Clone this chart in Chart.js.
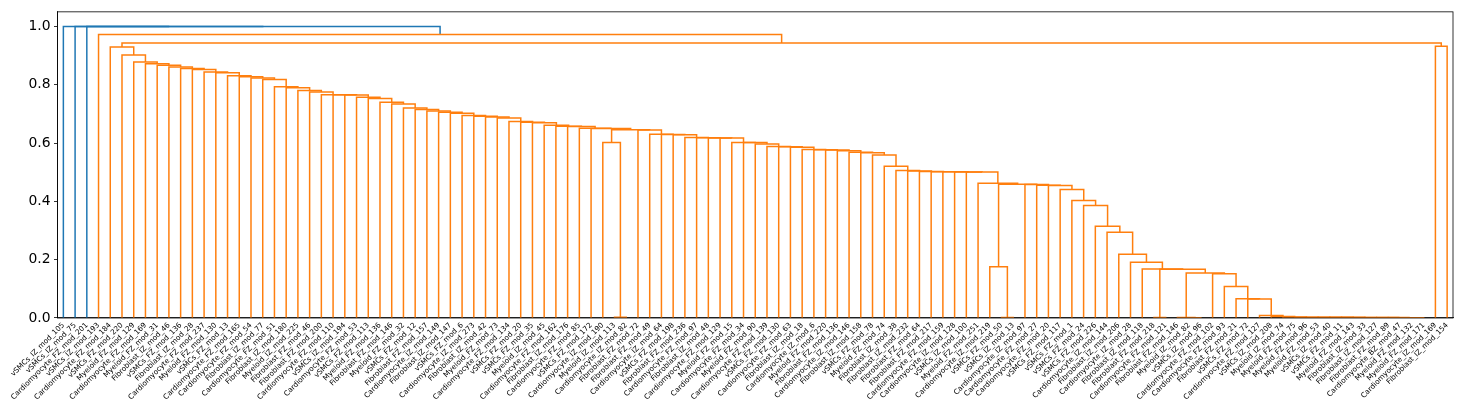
<!DOCTYPE html>
<html><head><meta charset="utf-8">
<script src="https://cdn.jsdelivr.net/npm/chart.js@4.4.1/dist/chart.umd.min.js"></script>
<style>html,body{margin:0;padding:0;background:#fff}#wrap{width:1462px;height:414px}</style>
</head><body><div id="wrap"><canvas id="c" width="1462" height="414"></canvas></div>
<script>
const leafLabels = [
"vSMCs_IZ_mod_105","vSMCs_IZ_mod_75","Cardiomyocyte_FZ_mod_201","vSMCs_IZ_mod_193","Cardiomyocyte_FZ_mod_184",
"vSMCs_FZ_mod_220","Myeloid_FZ_mod_129","Cardiomyocyte_FZ_mod_169","Myeloid_FZ_mod_31","Fibroblast_IZ_mod_46",
"vSMCs_FZ_mod_136","Fibroblast_IZ_mod_28","Cardiomyocyte_FZ_mod_237","Myeloid_FZ_mod_130","vSMCs_FZ_mod_13",
"Cardiomyocyte_FZ_mod_165","Cardiomyocyte_FZ_mod_54","Fibroblast_IZ_mod_77","Cardiomyocyte_FZ_mod_51","Fibroblast_IZ_mod_180",
"Myeloid_IZ_mod_225","Fibroblast_FZ_mod_46","Fibroblast_FZ_mod_200","Cardiomyocyte_FZ_mod_110","vSMCs_IZ_mod_194",
"Cardiomyocyte_FZ_mod_53","vSMCs_FZ_mod_113","Myeloid_FZ_mod_136","Fibroblast_FZ_mod_146","Myeloid_FZ_mod_32",
"vSMCs_FZ_mod_12","Fibroblast_FZ_mod_157","Cardiomyocyte_IZ_mod_149","Fibroblast_IZ_mod_147","vSMCs_FZ_mod_6",
"Cardiomyocyte_IZ_mod_273","Fibroblast_IZ_mod_42","Myeloid_FZ_mod_73","Cardiomyocyte_FZ_mod_134","vSMCs_FZ_mod_20",
"vSMCs_FZ_mod_35","Myeloid_IZ_mod_45","Cardiomyocyte_FZ_mod_162","Fibroblast_IZ_mod_176","Cardiomyocyte_FZ_mod_85",
"vSMCs_FZ_mod_172","Cardiomyocyte_IZ_mod_190","Myeloid_IZ_mod_113","Cardiomyocyte_IZ_mod_82","Fibroblast_FZ_mod_72",
"Fibroblast_FZ_mod_49","Cardiomyocyte_IZ_mod_64","vSMCs_FZ_mod_198","Fibroblast_FZ_mod_236","Cardiomyocyte_FZ_mod_97",
"Fibroblast_IZ_mod_48","Cardiomyocyte_FZ_mod_129","Myeloid_FZ_mod_15","Cardiomyocyte_FZ_mod_34","Myeloid_FZ_mod_90",
"Cardiomyocyte_FZ_mod_139","vSMCs_FZ_mod_130","Cardiomyocyte_FZ_mod_63","Fibroblast_IZ_mod_18","Cardiomyocyte_IZ_mod_6",
"Myeloid_FZ_mod_220","Fibroblast_FZ_mod_136","Cardiomyocyte_IZ_mod_146","Fibroblast_IZ_mod_158","vSMCs_FZ_mod_78",
"Myeloid_FZ_mod_74","Fibroblast_IZ_mod_38","Fibroblast_IZ_mod_232","Fibroblast_FZ_mod_64","Fibroblast_FZ_mod_217",
"Cardiomyocyte_FZ_mod_159","Cardiomyocyte_IZ_mod_128","vSMCs_IZ_mod_100","Myeloid_FZ_mod_251","Cardiomyocyte_IZ_mod_219",
"vSMCs_FZ_mod_50","vSMCs_IZ_mod_13","Cardiomyocyte_IZ_mod_97","Cardiomyocyte_FZ_mod_27","Cardiomyocyte_FZ_mod_20",
"vSMCs_FZ_mod_117","vSMCs_FZ_mod_1","vSMCs_FZ_mod_24","vSMCs_FZ_mod_226","Cardiomyocyte_IZ_mod_144",
"Fibroblast_IZ_mod_206","Cardiomyocyte_IZ_mod_28","Fibroblast_IZ_mod_118","Fibroblast_FZ_mod_218","Cardiomyocyte_FZ_mod_121",
"Fibroblast_FZ_mod_146","Myeloid_IZ_mod_82","vSMCs_IZ_mod_96","Cardiomyocyte_FZ_mod_102","Cardiomyocyte_FZ_mod_93",
"Fibroblast_FZ_mod_21","vSMCs_FZ_mod_72","Cardiomyocyte_FZ_mod_127","vSMCs_IZ_mod_208","Myeloid_IZ_mod_74",
"Myeloid_FZ_mod_75","Myeloid_FZ_mod_96","Myeloid_FZ_mod_53","vSMCs_IZ_mod_40","vSMCs_FZ_mod_11",
"Myeloid_FZ_mod_143","Fibroblast_IZ_mod_33","Fibroblast_IZ_mod_127","Fibroblast_FZ_mod_89","Cardiomyocyte_BZ_mod_47",
"Myeloid_FZ_mod_132","Myeloid_FZ_mod_171","Cardiomyocyte_IZ_mod_169","Fibroblast_IZ_mod_154"
];

// linkage: [name, left child, right child, merge height]; numbers are leaf indices
const links = [
["p115",115,116,0.0010],["c114",114,"p115",0.0012],["c113",113,"c114",0.0014],["c112",112,"c113",0.0016],
["c111",111,"c112",0.0018],["c110",110,"c111",0.0020],["c109",109,"c110",0.0022],["c108",108,"c109",0.0024],
["c107",107,"c108",0.0026],["c106",106,"c107",0.0028],["c105",105,"c106",0.0030],["c104",104,"c105",0.0033],
["c103",103,"c104",0.0055],["c102",102,"c103",0.0090],["c101",101,"c102",0.0650],["c100",100,"c101",0.0660],
["c99",99,"c100",0.1080],["c98",98,"c99",0.1520],
["p96",96,97,0.0012],["t95",95,"p96",0.0020],["y","t95","c98",0.1540],
["p93",93,94,0.0018],["x","p93","y",0.1675],
["c92",92,"x",0.1680],["c91",91,"c92",0.1910],["c90",90,"c91",0.2190],["c89",89,"c90",0.2940],
["c88",88,"c89",0.3147],["c87",87,"c88",0.3860],["c86",86,"c87",0.4030],["c85",85,"c86",0.4410],
["c84",84,"c85",0.4545],["c83",83,"c84",0.4550],["c82",82,"c83",0.4580],
["p80",80,81,0.0020],["b79",79,"p80",0.1760],["r","b79","c82",0.4591],
["c78",78,"r",0.4625],["c77",77,"c78",0.5005],["c76",76,"c77",0.5010],["c75",75,"c76",0.5015],
["c74",74,"c75",0.5020],["c73",73,"c74",0.5025],["c72",72,"c73",0.5045],["c71",71,"c72",0.5056],
["c70",70,"c71",0.5204],["c69",69,"c70",0.5591],["c68",68,"c69",0.5670],["c67",67,"c68",0.5682],
["c66",66,"c67",0.5739],["c65",65,"c66",0.5760],["c64",64,"c65",0.5770],["c63",63,"c64",0.5775],
["c62",62,"c63",0.5852],["c61",61,"c62",0.5870],["c60",60,"c61",0.5886],["c59",59,"c60",0.5970],
["c58",58,"c59",0.6015],["c57",57,"c58",0.6020],["c56",56,"c57",0.6170],["c55",55,"c56",0.6175],
["c54",54,"c55",0.6185],["c53",53,"c54",0.6192],["c52",52,"c53",0.6283],["c51",51,"c52",0.6295],
["c50",50,"c51",0.6306],["c49",49,"c50",0.6450],
["p47",47,48,0.0030],["s46",46,"p47",0.6020],["s","s46","c49",0.6454],
["c45",45,"s",0.6500],["c44",44,"c45",0.6505],["c43",43,"c44",0.6568],["c42",42,"c43",0.6579],
["c41",41,"c42",0.6613],["c40",40,"c41",0.6693],["c39",39,"c40",0.6715],["c38",38,"c39",0.6738],
["c37",37,"c38",0.6863],["c36",36,"c37",0.6897],["c35",35,"c36",0.6920],["c34",34,"c35",0.6943],
["c33",33,"c34",0.7022],["c32",32,"c33",0.7057],["c31",31,"c32",0.7102],["c30",30,"c31",0.7147],
["c29",29,"c30",0.7205],["c28",28,"c29",0.7340],["c27",27,"c28",0.7400],["c26",26,"c27",0.7530],
["c25",25,"c26",0.7570],["c24",24,"c25",0.7650],["c23",23,"c24",0.7655],["c22",22,"c23",0.7660],
["c21",21,"c22",0.7750],["c20",20,"c21",0.7800],["c19",19,"c20",0.7900],["c18",18,"c19",0.7930],
["c17",17,"c18",0.8180],["c16",16,"c17",0.8230],["c15",15,"c16",0.8270],["c14",14,"c15",0.8310],
["c13",13,"c14",0.8410],["c12",12,"c13",0.8440],["c11",11,"c12",0.8520],["c10",10,"c11",0.8560],
["c9",9,"c10",0.8610],["c8",8,"c9",0.8670],["c7",7,"c8",0.8720],["c6",6,"c7",0.8780],
["c5",5,"c6",0.9020],["c4",4,"c5",0.9290],
["g",117,118,0.9320],["f","c4","g",0.9430],["h",3,"f",0.9720],
["b2",2,"h",1.0],["b1",1,"b2",1.0],["root",0,"b1",1.0]
];

const colorThreshold = 0.99;
const aboveColor = "#1f77b4";
const clusterColor = "#ff7f0e";
const yTickValues = [0, 0.2, 0.4, 0.6, 0.8, 1.0];

// ---- build dendrogram geometry from the linkage ----
const nodes = {};
links.forEach(([name, l, r, h]) => { nodes[name] = {l, r, h}; });
const rootName = links[links.length - 1][0];
const order = [];
(function walk(ref){ if (typeof ref === "number") { order.push(ref); return; } walk(nodes[ref].l); walk(nodes[ref].r); })(rootName);
const leafX = {};
order.forEach((leaf, i) => { leafX[leaf] = 5 + 10 * i; });
function place(ref){
  if (typeof ref === "number") return {x: leafX[ref], h: 0};
  const n = nodes[ref];
  if (n.x === undefined) { const a = place(n.l), b = place(n.r); n.a = a; n.b = b; n.x = (a.x + b.x) / 2; }
  return {x: n.x, h: n.h};
}
place(rootName);
const yMax = Math.max(...links.map(d => d[3])) * 1.05;

const datasets = links.map(([name]) => {
  const n = nodes[name];
  return {
    data: [{x: n.a.x, y: n.a.h}, {x: n.a.x, y: n.h}, {x: n.b.x, y: n.h}, {x: n.b.x, y: n.b.h}],
    borderColor: n.h > colorThreshold ? aboveColor : clusterColor,
    borderWidth: 1.5, showLine: true, pointRadius: 0, fill: false
  };
});

const frame = {
  id: "frame",
  afterDatasetsDraw(chart){
    const {ctx, chartArea: a} = chart;
    ctx.save(); ctx.strokeStyle = "#000"; ctx.lineWidth = 0.8;
    ctx.strokeRect(a.left, a.top, a.right - a.left, a.bottom - a.top);
    ctx.restore();
  }
};

new Chart(document.getElementById("c"), {
  type: "scatter",
  data: {datasets},
  plugins: [frame],
  options: {
    responsive: false, animation: false, devicePixelRatio: 1,
    layout: {padding: {top: 10, right: 9, left: 0, bottom: 0}},
    plugins: {legend: {display: false}, tooltip: {enabled: false}},
    elements: {point: {radius: 0}, line: {tension: 0}},
    scales: {
      x: {
        type: "linear", min: 0, max: 10 * leafLabels.length,
        afterBuildTicks: s => { s.ticks = order.map((leaf, i) => ({value: 5 + 10 * i})); },
        afterFit: s => { s.height = 96; s.paddingLeft = 0; s.paddingRight = 0; },
        ticks: {autoSkip: false, minRotation: 45, maxRotation: 45, padding: 3, color: "#000",
                font: {family: "DejaVu Sans", size: 7.3},
                callback: (v, i) => leafLabels[order[i]]},
        grid: {display: false, drawTicks: false},
        border: {color: "#000", width: 0.8}
      },
      y: {
        min: 0, max: yMax,
        afterBuildTicks: s => { s.ticks = yTickValues.map(v => ({value: v})); },
        afterFit: s => { s.width = 57.5; },
        ticks: {color: "#000", padding: 3.5, font: {family: "DejaVu Sans", size: 13.9},
                callback: v => Number(v).toFixed(1)},
        grid: {drawOnChartArea: false, tickLength: 3.5, color: "#000", tickWidth: 0.8},
        border: {color: "#000", width: 0.8}
      }
    }
  }
});
</script>
</body></html>
